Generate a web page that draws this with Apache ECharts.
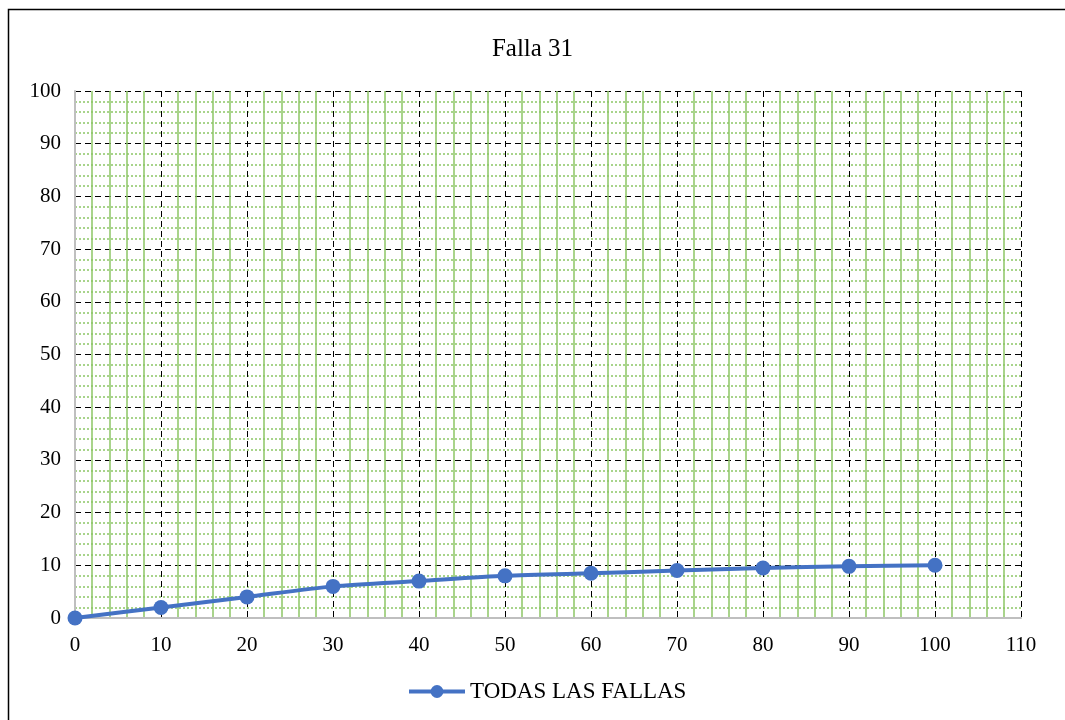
<!DOCTYPE html>
<html>
<head>
<meta charset="utf-8">
<script src="https://cdn.jsdelivr.net/npm/echarts@6/dist/echarts.min.js"></script>
<style>
  html, body { margin: 0; padding: 0; background: #fff; }
  #chart { width: 1065px; height: 720px; }
</style>
</head>
<body>
<div id="chart"></div>
<script>
// Cumulative failures curve
const titleText = 'Falla 31';
const seriesName = 'TODAS LAS FALLAS';
const xValues = [0, 10, 20, 30, 40, 50, 60, 70, 80, 90, 100];
const yValues = [0, 2, 4, 6, 7, 8, 8.5, 9, 9.5, 9.8, 10];

const serif = '"Liberation Serif", "Times New Roman", serif';
const blue = '#4472C4';
const green = '#8CC665';

const chart = echarts.init(document.getElementById('chart'));
chart.setOption({
  backgroundColor: '#fff',
  animation: false,
  title: {
    text: titleText,
    left: 'center',
    top: 32,
    textStyle: { fontFamily: serif, fontSize: 25, fontWeight: 'normal', color: '#000' }
  },
  legend: {
    bottom: 12,
    left: 402,
    itemWidth: 56,
    itemHeight: 16,
    itemGap: 8,
    lineStyle: { width: 4 },
    textStyle: { fontFamily: serif, fontSize: 23, color: '#000' },
    data: [seriesName]
  },
  grid: { left: 75, right: 44, top: 91, bottom: 102 },
  graphic: [{
    type: 'rect',
    shape: { x: 8.5, y: 9.5, width: 1200, height: 900 },
    style: { fill: 'none', stroke: '#000', lineWidth: 1.5 },
    silent: true
  }],
  xAxis: {
    type: 'value',
    min: 0,
    max: 110,
    interval: 10,
    axisLine: { show: true, onZero: false, lineStyle: { color: '#BFBFBF', width: 2 } },
    axisTick: { show: false },
    axisLabel: { fontFamily: serif, fontSize: 21, color: '#000', margin: 17 },
    splitLine: { show: true, lineStyle: { color: '#000', type: [6, 4], width: 1 } },
    minorTick: { show: false, splitNumber: 5 },
    minorSplitLine: { show: true, lineStyle: { color: green, type: 'solid', width: 1.5 } }
  },
  yAxis: {
    type: 'value',
    min: 0,
    max: 100,
    interval: 10,
    axisLine: { show: true, lineStyle: { color: '#BFBFBF', width: 2 } },
    axisTick: { show: false },
    axisLabel: { fontFamily: serif, fontSize: 21, color: '#000', margin: 14 },
    splitLine: { show: true, lineStyle: { color: '#000', type: [6, 4], width: 1 } },
    minorTick: { show: false, splitNumber: 5 },
    minorSplitLine: { show: true, lineStyle: { color: green, type: [2, 2], width: 1.5 } }
  },
  series: [{
    name: seriesName,
    type: 'line',
    data: xValues.map((x, i) => [x, yValues[i]]),
    smooth: 0.25,
    symbol: 'circle',
    symbolSize: 15,
    itemStyle: { color: blue },
    lineStyle: { color: blue, width: 4 },
    z: 5
  }]
});
</script>
</body>
</html>
